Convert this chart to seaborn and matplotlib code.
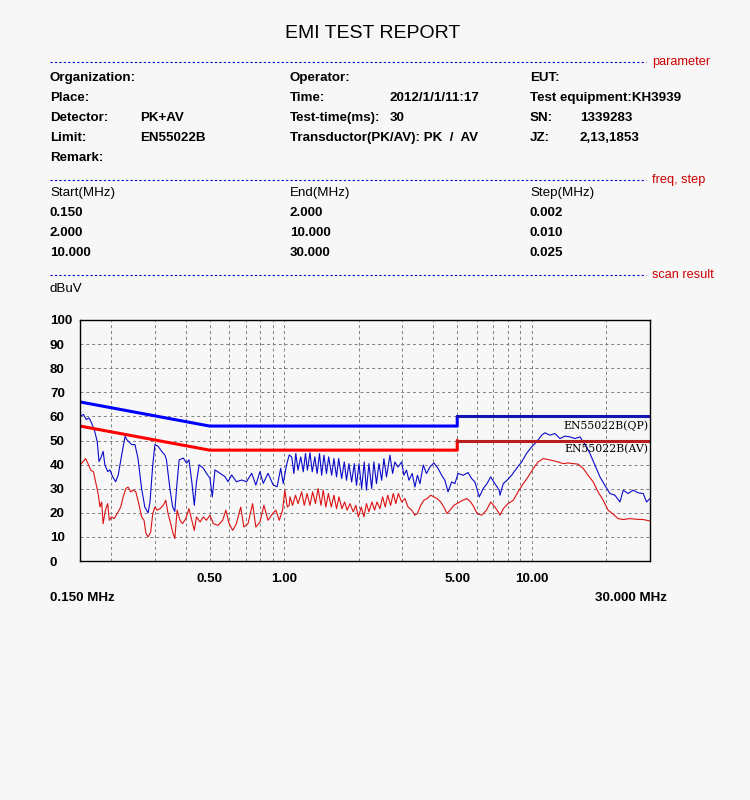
import matplotlib
matplotlib.use("Agg")
import matplotlib.pyplot as plt
import seaborn as sns
from matplotlib.ticker import NullFormatter

sns.set_style("white")
plt.rcParams['font.family'] = ['Liberation Sans', 'DejaVu Sans']
plt.rcParams['text.color'] = 'black'
plt.rcParams['xtick.color'] = 'black'
plt.rcParams['ytick.color'] = 'black'

# ---- report text ----
title = "EMI TEST REPORT"
col1_labels = ["Organization:", "Place:", "Detector:", "Limit:", "Remark:"]
col1_values = ["", "", "PK+AV", "EN55022B", ""]
col2_labels = ["Operator:", "Time:", "Test-time(ms):", "Transductor(PK/AV): PK  /  AV"]
col2_values = ["", "2012/1/1/11:17", "30", ""]
col3_labels = ["EUT:", "Test equipment:KH3939", "SN:", "JZ:"]
col3_values = ["", "", "1339283", "2,13,1853"]
step_header = ["Start(MHz)", "End(MHz)", "Step(MHz)"]
step_start = ["0.150", "2.000", "10.000"]
step_end = ["2.000", "10.000", "30.000"]
step_size = ["0.002", "0.010", "0.025"]

# ---- limits (EN55022 class B) ----
qp_lim_freq_lo = [0.15, 0.5, 5.0, 5.0]
qp_lim_lo = [66, 56, 56, 60]
qp_lim_freq_hi = [5.0, 30.0]
qp_lim_hi = [60, 60]
av_lim_freq_lo = [0.15, 0.5, 5.0, 5.0]
av_lim_lo = [56, 46, 46, 50]
av_lim_freq_hi = [5.0, 30.0]
av_lim_hi = [50, 50]

# ---- peak trace (blue) ----
pk_freq = [
    0.150, 0.155, 0.159, 0.163, 0.167, 0.172, 0.176, 0.179, 0.182, 0.186,
    0.189, 0.194, 0.198, 0.203, 0.209, 0.214, 0.221, 0.228, 0.232, 0.2425,
    0.250, 0.257, 0.266, 0.274, 0.2825, 0.2875, 0.295, 0.301, 0.310, 0.3205,
    0.330, 0.335, 0.346, 0.355, 0.362, 0.370, 0.377, 0.392, 0.404, 0.413,
    0.424, 0.434, 0.443, 0.454, 0.472, 0.486, 0.502, 0.513, 0.526, 0.551,
    0.577, 0.594, 0.614, 0.642, 0.674, 0.705, 0.740, 0.769, 0.799, 0.824,
    0.861, 0.904, 0.937, 0.969, 0.992, 1.023, 1.049,
    1.073, 1.095, 1.115, 1.138, 1.167, 1.195, 1.220, 1.242, 1.272, 1.299,
    1.331, 1.359, 1.390, 1.418, 1.448, 1.483, 1.513, 1.556, 1.589, 1.628,
    1.661, 1.708, 1.749, 1.786, 1.827, 1.874, 1.920, 1.960, 2.006, 2.056,
    2.106, 2.150, 2.200, 2.257, 2.304, 2.360, 2.414, 2.477, 2.529, 2.590,
    2.675, 2.742, 2.800, 2.884, 2.983, 3.046, 3.120, 3.191, 3.291, 3.372,
    3.454, 3.536, 3.646, 3.757, 3.880, 4.025, 4.183, 4.326, 4.457, 4.590,
    4.748, 4.891, 5.038, 5.287, 5.528, 5.718, 5.891, 6.137, 6.368, 6.596,
    6.822, 7.095, 7.387,
    7.438, 7.669, 7.944, 8.293, 8.673, 9.101, 9.518, 9.988, 10.45, 10.96,
    11.29, 11.84, 12.39, 12.99, 13.60, 14.26, 14.93, 15.65, 16.13, 16.63,
    17.17, 17.97, 18.84, 19.72, 20.68, 21.65, 22.69, 23.39, 24.46, 25.67,
    26.84, 28.18, 29.04, 30.0,
]
pk_level = [
    60.1, 60.8, 58.7, 59.4, 57.3, 53.8, 49.6, 41.3, 42.7, 45.5,
    39.9, 37.1, 37.8, 35.0, 32.9, 35.7, 44.0, 51.7, 50.3, 48.3,
    48.3, 42.7, 30.0, 22.4, 20.0, 24.5, 39.9, 48.3, 47.6, 45.5,
    44.0, 42.0, 30.0, 22.4, 20.6, 32.9, 42.0, 42.7, 40.6, 42.0,
    32.9, 23.1, 32.9, 39.9, 38.5, 36.4, 34.3, 26.6, 37.8, 36.4,
    35.0, 32.9, 35.7, 32.9, 33.6, 32.9, 36.4, 31.5, 37.1, 32.2,
    36.4, 31.5, 30.8, 38.5, 32.2, 39.9, 44.0,
    43.2, 36.3, 44.6, 37.7, 43.2, 37.0, 44.6, 37.7, 44.9, 37.0,
    43.2, 36.3, 44.6, 35.6, 43.9, 36.3, 43.2, 35.6, 42.5, 34.9,
    42.5, 34.2, 41.1, 33.5, 40.4, 32.8, 40.4, 31.4, 40.4, 30.1,
    41.1, 29.4, 40.4, 30.1, 41.1, 32.1, 40.4, 33.5, 42.5, 34.9,
    43.9, 36.3, 41.1, 39.0, 41.1, 35.6, 37.7, 33.5, 36.3, 30.7,
    35.6, 32.1, 39.8, 36.3, 39.0, 40.7, 38.4, 35.6, 33.5, 28.7,
    32.8, 32.1, 36.3, 35.6, 36.7, 34.2, 32.8, 26.6, 30.1, 32.1,
    34.9, 32.1, 29.4,
    27.3, 32.1, 33.5, 35.6, 38.4, 41.1, 44.6, 47.4, 49.4, 52.2,
    53.2, 52.2, 52.9, 50.8, 51.8, 51.5, 50.8, 51.5, 49.4, 47.4,
    44.6, 39.8, 34.9, 31.4, 28.0, 27.3, 24.5, 29.4, 28.0, 29.4,
    28.3, 28.0, 24.5, 25.9,
]

# ---- average trace (red) ----
av_freq = [
    0.150, 0.154, 0.158, 0.1616, 0.1657, 0.170, 0.174, 0.1775, 0.1806, 0.1834,
    0.186, 0.190, 0.194, 0.197, 0.201, 0.206, 0.212, 0.219, 0.224, 0.230,
    0.2345, 0.2403, 0.246, 0.252, 0.259, 0.266, 0.272, 0.277, 0.2825, 0.2894,
    0.295, 0.301, 0.307, 0.3155, 0.325, 0.333, 0.340, 0.3485, 0.355, 0.362,
    0.370, 0.380, 0.389, 0.401, 0.413, 0.424, 0.434, 0.443, 0.458, 0.472,
    0.486, 0.502, 0.518, 0.541, 0.565, 0.582, 0.600, 0.620, 0.642, 0.668,
    0.688, 0.715, 0.746, 0.769, 0.799, 0.829, 0.861, 0.899, 0.926, 0.956,
    0.986, 1.007, 1.030, 1.049,
    1.056, 1.082, 1.112, 1.138, 1.178, 1.206, 1.238, 1.272, 1.304, 1.339,
    1.371, 1.409, 1.439, 1.474, 1.509, 1.551, 1.589, 1.628, 1.665, 1.712,
    1.755, 1.796, 1.845, 1.902, 1.948, 1.995, 2.049, 2.100, 2.150, 2.200,
    2.263, 2.319, 2.372, 2.438, 2.499, 2.560, 2.621, 2.692, 2.758, 2.825,
    2.892, 2.983, 3.073, 3.165, 3.274, 3.372, 3.454, 3.559, 3.668, 3.776,
    3.905, 4.025, 4.144, 4.286, 4.417, 4.548, 4.673, 4.848, 5.038, 5.256,
    5.477, 5.665, 5.839, 6.011, 6.275, 6.562, 6.822, 7.095, 7.387,
    7.438, 7.669, 8.018, 8.416, 8.800, 9.236, 9.657, 10.14, 10.60, 11.12,
    11.63, 12.21, 12.76, 13.39, 14.00, 14.70, 15.37, 16.13, 16.87, 17.70,
    18.51, 19.42, 20.31, 21.32, 22.29, 23.39, 24.90, 26.46, 28.18, 30.0,
]
av_level = [
    39.8, 41.1, 42.5, 40.4, 37.7, 37.0, 32.1, 28.0, 22.4, 24.5,
    15.5, 21.1, 23.8, 16.9, 18.3, 17.6, 19.7, 22.4, 26.6, 30.1,
    30.7, 28.7, 29.4, 28.7, 23.8, 18.3, 16.9, 11.4, 10.0, 12.0,
    19.7, 22.4, 21.1, 21.7, 23.1, 25.2, 19.7, 15.5, 12.0, 9.3,
    21.1, 16.9, 15.5, 17.6, 21.7, 16.9, 12.7, 18.3, 16.2, 18.3,
    16.9, 19.0, 15.5, 14.8, 16.9, 21.1, 15.5, 12.7, 15.5, 22.4,
    14.1, 15.5, 23.8, 14.1, 16.2, 23.1, 16.9, 19.7, 21.1, 16.9,
    21.1, 29.4, 22.4, 23.1,
    26.6, 23.1, 27.3, 23.8, 28.7, 23.1, 28.0, 23.1, 28.7, 23.8,
    30.1, 23.1, 29.4, 22.4, 28.0, 22.4, 27.3, 21.7, 26.6, 21.7,
    24.5, 21.1, 23.8, 20.4, 23.1, 18.3, 22.4, 18.3, 23.8, 20.4,
    24.5, 21.1, 24.5, 21.7, 26.6, 22.4, 27.3, 23.1, 28.0, 23.8,
    28.0, 24.5, 25.9, 22.4, 21.1, 19.0, 19.7, 23.1, 25.2, 25.9,
    27.3, 26.6, 25.9, 24.5, 22.4, 19.7, 21.1, 23.1, 24.1, 25.2,
    25.9, 24.5, 22.4, 19.7, 19.0, 21.1, 24.5, 22.4, 19.7,
    19.0, 21.7, 23.8, 25.2, 28.7, 32.1, 34.9, 38.4, 41.1, 42.5,
    42.1, 41.6, 41.1, 40.4, 40.7, 40.4, 40.2, 38.4, 35.6, 32.8,
    28.7, 25.2, 21.1, 19.4, 17.6, 17.2, 17.6, 17.3, 17.2, 16.6,
]
assert len(pk_freq) == len(pk_level)
assert len(av_freq) == len(av_level)

x_major = [0.5, 1.0, 5.0, 10.0]
x_major_labels = ["0.50", "1.00", "5.00", "10.00"]
x_grid = [0.2, 0.3, 0.4, 0.6, 0.7, 0.8, 0.9, 2, 3, 4, 6, 7, 8, 9, 20]
y_ticks = list(range(0, 101, 10))

bg = "#f7f7f7"
W, H = 750, 800
FS = 9.6
fig = plt.figure(figsize=(7.5, 8), dpi=100, facecolor=bg)


def put(x, y, s, **kw):
    kw.setdefault("fontsize", FS)
    kw.setdefault("fontweight", "bold")
    kw.setdefault("va", "center")
    kw.setdefault("color", "black")
    fig.text(x / W, 1 - y / H, s, **kw)


def divider(y, label):
    fig.add_artist(plt.Line2D([50 / W, 646 / W], [1 - y / H, 1 - y / H],
                              color="#0000cc", lw=0.8, ls=(0, (2, 2))))
    put(652, y, label, color="#cc0000", fontweight="normal", fontsize=9.2)


put(373, 33, title, ha="center", fontsize=14, fontweight="normal")

divider(62, "parameter")
rows_y = [78, 98, 118, 138, 158]
for i, (lab, val) in enumerate(zip(col1_labels, col1_values)):
    put(50, rows_y[i], lab)
    if val:
        put(140, rows_y[i], val)
for i, (lab, val) in enumerate(zip(col2_labels, col2_values)):
    put(290, rows_y[i], lab)
    if val:
        put(390, rows_y[i], val)
for i, (lab, val) in enumerate(zip(col3_labels, col3_values)):
    put(530, rows_y[i], lab)
    if val:
        put(580, rows_y[i], val)

divider(180, "freq, step")
for x, h in zip([50, 290, 530], step_header):
    put(x, 193, h, fontweight="normal")
for i in range(3):
    y = 213 + 20 * i
    put(50, y, step_start[i])
    put(290, y, step_end[i])
    put(530, y, step_size[i])

divider(275, "scan result")
put(50, 289, "dBuV", fontweight="normal")

# ---- chart ----
ax = fig.add_axes([80 / W, 1 - 561 / H, 570 / W, 241 / H])
ax.set_facecolor(bg)
ax.set_xscale("log")

sns.lineplot(x=av_freq, y=av_level, ax=ax, color="#dd1111", linewidth=0.8,
             estimator=None, sort=False)
sns.lineplot(x=pk_freq, y=pk_level, ax=ax, color="#0a0acc", linewidth=0.8,
             estimator=None, sort=False)
sns.lineplot(x=qp_lim_freq_lo, y=qp_lim_lo, ax=ax, color="#0000ff",
             linewidth=2.2, estimator=None, sort=False)
sns.lineplot(x=qp_lim_freq_hi, y=qp_lim_hi, ax=ax, color="#1414b0",
             linewidth=2.2, estimator=None, sort=False)
sns.lineplot(x=av_lim_freq_lo, y=av_lim_lo, ax=ax, color="#ff0000",
             linewidth=2.2, estimator=None, sort=False)
sns.lineplot(x=av_lim_freq_hi, y=av_lim_hi, ax=ax, color="#b81c1c",
             linewidth=2.2, estimator=None, sort=False)

ax.text(29.6, 56.3, "EN55022B(QP)", ha="right", va="center",
        family="DejaVu Serif", fontsize=7.8, color="black")
ax.text(29.6, 46.4, "EN55022B(AV)", ha="right", va="center",
        family="DejaVu Serif", fontsize=7.8, color="black")

ax.set_xlim(0.15, 30)
ax.set_ylim(0, 100)
ax.set_xticks(x_major)
ax.set_xticklabels(x_major_labels)
ax.set_xticks(x_grid, minor=True)
ax.xaxis.set_minor_formatter(NullFormatter())
ax.set_yticks(y_ticks)
ax.set_yticklabels([str(v) for v in y_ticks])
ax.tick_params(axis="both", which="both", length=0, labelcolor="black")
ax.tick_params(axis="x", pad=9, labelsize=FS)
ax.tick_params(axis="y", pad=21.6, labelsize=FS)
for t in ax.get_yticklabels():
    t.set_horizontalalignment("left")
    t.set_fontweight("bold")
for t in ax.get_xticklabels():
    t.set_fontweight("bold")

grid_kw = dict(color="#808080", lw=0.7, ls=(0, (3, 3)))
ax.grid(True, which="both", axis="x", **grid_kw)
ax.grid(True, which="major", axis="y", **grid_kw)
ax.set_axisbelow(True)
for s in ax.spines.values():
    s.set_color("black")
    s.set_linewidth(1)
ax.set_xlabel("")
ax.set_ylabel("")

put(50, 598, "0.150 MHz")
put(595, 598, "30.000 MHz")

fig.savefig("out.png", dpi=100, facecolor=bg)
